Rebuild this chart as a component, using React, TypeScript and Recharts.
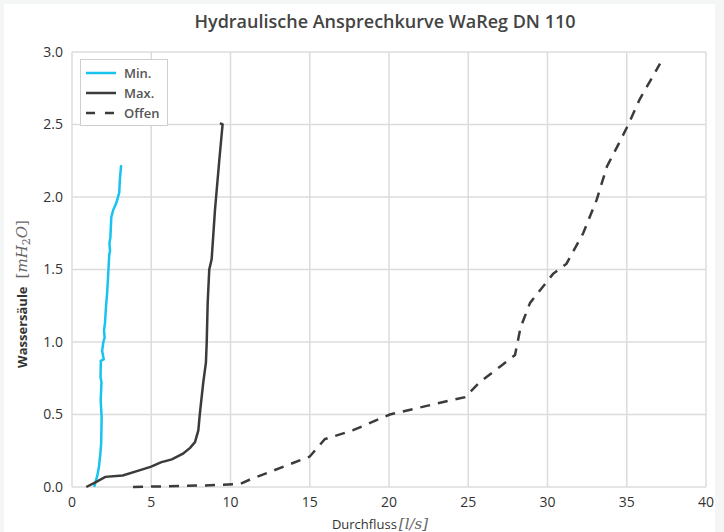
import { LineChart, Line, XAxis, YAxis, CartesianGrid, Legend } from "recharts";

// Durchfluss [l/s] / Wassersäule [mH2O] je Kurve
const minX = [1.4, 1.6, 1.7, 1.78, 1.84, 1.87, 1.81, 1.86, 1.8, 1.82, 2.0, 1.9, 1.98, 2.06, 2.02, 2.08, 2.15, 2.22, 2.3, 2.35, 2.4, 2.36, 2.42, 2.48, 2.6, 2.8, 2.98, 3.02, 3.1];
const minY = [0.0, 0.08, 0.14, 0.22, 0.3, 0.48, 0.6, 0.72, 0.76, 0.87, 0.88, 0.94, 1.0, 1.03, 1.08, 1.13, 1.25, 1.34, 1.5, 1.6, 1.63, 1.68, 1.72, 1.86, 1.91, 1.96, 2.03, 2.12, 2.22];

const maxX = [0.9, 1.45, 2.1, 3.2, 4.4, 5.0, 5.6, 6.3, 7.0, 7.45, 7.76, 7.97, 8.07, 8.28, 8.45, 8.5, 8.56, 8.66, 8.81, 9.02, 9.29, 9.5, 9.34];
const maxY = [0.0, 0.03, 0.07, 0.08, 0.12, 0.14, 0.17, 0.19, 0.23, 0.27, 0.31, 0.39, 0.51, 0.72, 0.86, 1.0, 1.27, 1.5, 1.57, 1.91, 2.25, 2.5, 2.51];

const offenX = [3.85, 8.1, 10.6, 11.2, 15.0, 15.95, 17.7, 20.05, 22.8, 24.8, 25.7, 27.0, 27.95, 28.3, 28.9, 30.35, 31.2, 32.25, 33.1, 33.75, 34.6, 35.1, 35.8, 37.1];
const offenY = [0.0, 0.01, 0.02, 0.05, 0.21, 0.33, 0.39, 0.5, 0.57, 0.62, 0.72, 0.83, 0.91, 1.1, 1.27, 1.47, 1.54, 1.75, 1.98, 2.21, 2.39, 2.5, 2.67, 2.92];

const xTicks = [0, 5, 10, 15, 20, 25, 30, 35, 40];
const yTicks = [0, 0.5, 1, 1.5, 2, 2.5, 3];

const toPoints = (xs: number[], ys: number[]) => xs.map((x, i) => ({ x, y: ys[i] }));

const FONT = "'Open Sans', sans-serif";
const MATH = "'DejaVu Serif', 'Liberation Serif', serif";

const series = [
  { name: "Min.", color: "#17c3ef", dash: undefined, data: toPoints(minX, minY) },
  { name: "Max.", color: "#3b3b3b", dash: undefined, data: toPoints(maxX, maxY) },
  { name: "Offen", color: "#3b3b3b", dash: "10 8", data: toPoints(offenX, offenY) },
];

function LegendBox() {
  return (
    <div
      style={{
        border: "1px solid #cfcfcf",
        background: "#fff",
        padding: "3px 8px 2px 5px",
        fontFamily: FONT,
        fontSize: 13,
        fontWeight: 600,
        color: "#555",
      }}
    >
      {series.map((s) => (
        <div key={s.name} style={{ display: "flex", alignItems: "center", height: 20 }}>
          <svg width={30} height={4} style={{ marginRight: 8 }}>
            <line x1={0} y1={2} x2={30} y2={2} stroke={s.color} strokeWidth={2.5} strokeDasharray={s.dash ? "9 10" : undefined} />
          </svg>
          {s.name}
        </div>
      ))}
    </div>
  );
}

// Achsenbeschriftungen mit fester Position (Props von recharts werden ignoriert)
function XLabel() {
  return (
    <text x={380} y={529} textAnchor="middle" fontFamily={FONT} fontSize={13} fontWeight={500} fill="#333">
      Durchfluss
      <tspan fontFamily={MATH} fontStyle="italic" fontSize={15} fontWeight={400} fill="#666" dx={2}>
        [l/s]
      </tspan>
    </text>
  );
}

function YLabel() {
  return (
    <text transform="translate(27, 294) rotate(-90)" textAnchor="middle" fontFamily={FONT} fontSize={13} fontWeight={700} fill="#333">
      Wassersäule
      <tspan fontFamily={MATH} fontSize={15} fontWeight={400} fill="#666" dx={8}>[</tspan>
      <tspan fontFamily={MATH} fontStyle="italic" fontSize={15} fontWeight={400} fill="#666">mH</tspan>
      <tspan fontFamily={MATH} fontSize={11} fontWeight={400} fill="#666" dy={3}>2</tspan>
      <tspan fontFamily={MATH} fontStyle="italic" fontSize={15} fontWeight={400} fill="#666" dy={-3}>O</tspan>
      <tspan fontFamily={MATH} fontSize={15} fontWeight={400} fill="#666">]</tspan>
    </text>
  );
}

export default function App() {
  return (
    <div style={{ position: "absolute", left: 0, top: 0, width: 724, height: 532, background: "#f4f6f6" }}>
      <div style={{ position: "absolute", left: 4, top: 4, width: 711, height: 528, background: "#fff" }} />
      <div style={{ position: "absolute", left: 0, top: 0 }}>
        <LineChart width={724} height={532} margin={{ top: 52, right: 18, bottom: 15, left: 32 }}>
          <text x={385} y={28} textAnchor="middle" fontFamily={FONT} fontSize={18} fontWeight={600} fill="#444">
            Hydraulische Ansprechkurve WaReg DN 110
          </text>
          <CartesianGrid stroke="#dcdcdc" strokeWidth={1.5} />
          <XAxis
            type="number"
            dataKey="x"
            domain={[0, 40]}
            ticks={xTicks}
            height={30}
            tickSize={0}
            tickMargin={10}
            axisLine={false}
            tick={{ fill: "#333", fontSize: 14, fontFamily: FONT }}
            label={{ content: () => <XLabel /> }}
          />
          <YAxis
            type="number"
            dataKey="y"
            domain={[0, 3]}
            ticks={yTicks}
            width={40}
            tickSize={0}
            tickMargin={9}
            axisLine={false}
            tickFormatter={(v: number) => v.toFixed(1)}
            tick={{ fill: "#333", fontSize: 14, fontFamily: FONT }}
            label={{ content: () => <YLabel /> }}
          />
          <Legend
            layout="vertical"
            align="center"
            verticalAlign="middle"
            wrapperStyle={{ left: 80, top: 59, width: "auto" }}
            content={() => <LegendBox />}
          />
          {series.map((s) => (
            <Line
              key={s.name}
              name={s.name}
              data={s.data}
              dataKey="y"
              type="linear"
              stroke={s.color}
              strokeWidth={2.5}
              strokeDasharray={s.dash}
              dot={false}
              activeDot={false}
              isAnimationActive={false}
            />
          ))}
        </LineChart>
      </div>
    </div>
  );
}
